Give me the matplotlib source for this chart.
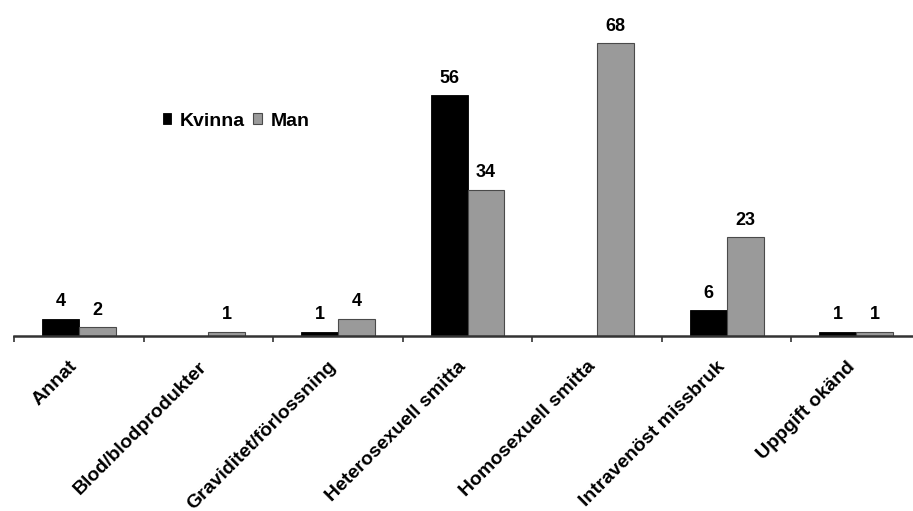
import matplotlib.pyplot as plt
import matplotlib.transforms as mtransforms
import numpy as np

categories = ['Annat', 'Blod/blodprodukter', 'Graviditet/förlossning',
              'Heterosexuell smitta', 'Homosexuell smitta',
              'Intravenöst missbruk', 'Uppgift okänd']
kvinna = [4, 0, 1, 56, 0, 6, 1]
man = [2, 1, 4, 34, 68, 23, 1]
series_names = ['Kvinna', 'Man']

plt.rcParams['font.family'] = ['Liberation Sans', 'DejaVu Sans']
plt.rcParams['font.weight'] = 'bold'

fig = plt.figure(figsize=(9.13, 5.11), dpi=100)
ax = fig.add_axes([14 / 913, 175 / 511, 907 / 913, 310 / 511])

x = np.arange(len(categories))
w = 0.285
ax.bar(x - w / 2, kvinna, w, color='black', edgecolor='black', linewidth=0.6, label=series_names[0])
ax.bar(x + w / 2, man, w, color='#9a9a9a', edgecolor='#4a4a4a', linewidth=0.8, label=series_names[1])

# värdeetiketter (0 visas inte)
for xi, k, m in zip(x, kvinna, man):
    if k > 0:
        ax.annotate(str(k), (xi - w / 2, k), xytext=(0, 6), textcoords='offset points',
                    ha='center', va='bottom', fontsize=13, fontweight='bold')
    if m > 0:
        ax.annotate(str(m), (xi + w / 2, m), xytext=(0, 6), textcoords='offset points',
                    ha='center', va='bottom', fontsize=13, fontweight='bold')

ax.set_xlim(-0.5, len(categories) - 0.5)
ax.set_ylim(0, 72)

for s in ['top', 'right', 'left']:
    ax.spines[s].set_visible(False)
ax.spines['bottom'].set_color('#333333')
ax.spines['bottom'].set_linewidth(1.8)
ax.set_yticks([])

# kategorietiketter, snett under axeln
ax.set_xticks(x)
ax.set_xticklabels([])
ax.tick_params(axis='x', which='major', length=0)
offset = mtransforms.ScaledTranslation(-10 / 100, -22 / 100, fig.dpi_scale_trans)
for xi, cat in zip(x, categories):
    ax.text(xi, 0, cat, transform=ax.get_xaxis_transform() + offset,
            rotation=45, ha='right', va='top', rotation_mode='anchor',
            fontsize=14, fontweight='bold')
ax.set_xticks(np.arange(-0.5, len(categories) + 0.5, 1), minor=True)
ax.tick_params(axis='x', which='minor', length=4, width=1.2, color='#333333')

ax.legend(loc='upper left', bbox_to_anchor=(145 / 913, 416 / 511), bbox_transform=fig.transFigure,
          ncol=2, frameon=False, handlelength=0.45, handleheight=0.55, handletextpad=0.45,
          columnspacing=0.4, prop={'weight': 'bold', 'size': 14})

fig.savefig('out.png', dpi=100)
